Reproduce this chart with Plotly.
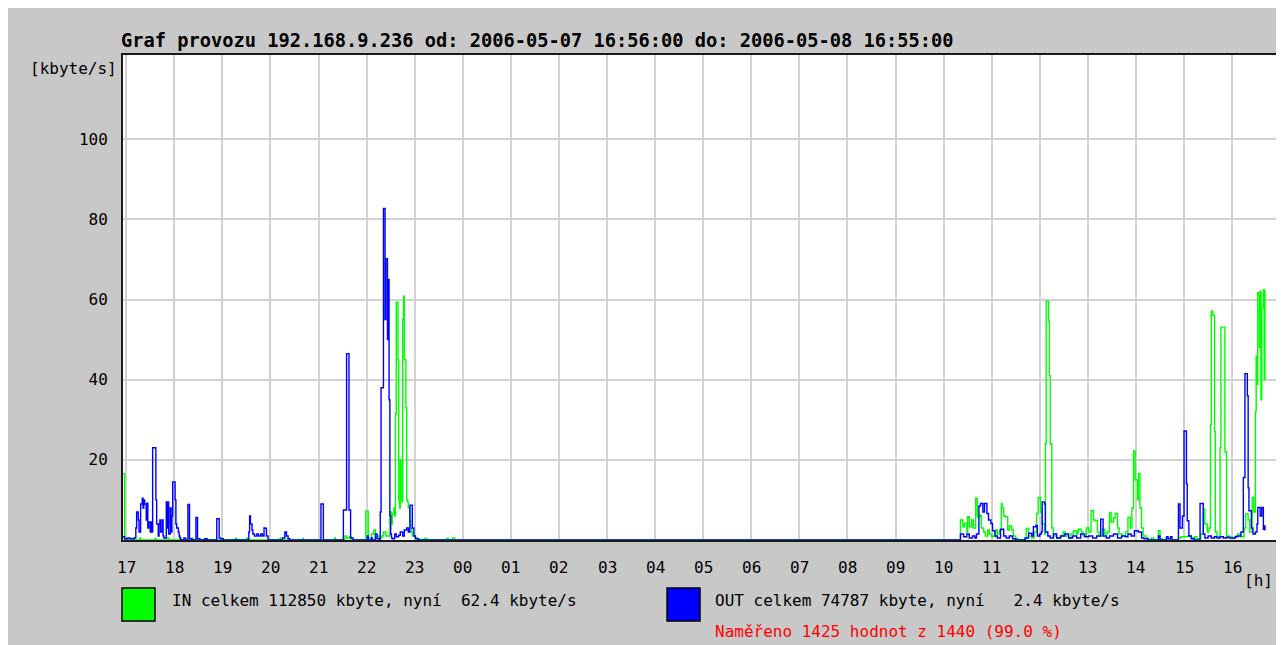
import plotly.graph_objects as go

# ---------------- data ----------------
TITLE = "Graf provozu 192.168.9.236 od: 2006-05-07 16:56:00 do: 2006-05-08 16:55:00"
start_minute_of_hour = 56          # series starts at 16:56
total_minutes = 1440
hour_labels = ["17", "18", "19", "20", "21", "22", "23", "00", "01", "02", "03", "04",
               "05", "06", "07", "08", "09", "10", "11", "12", "13", "14", "15", "16"]
y_ticks = [20, 40, 60, 80, 100]
y_max = 121

# minutes after 16:56 and kbyte/s values (step samples)
in_minute = [0, 2, 11, 13, 21, 22, 40, 41, 56, 57, 71, 72, 86, 87, 140, 142, 154, 155, 196, 197,
             224, 225, 264, 265, 277, 279, 283, 285,
             303, 306, 310, 313, 315, 318, 320, 323, 325, 328, 333, 334, 335, 336, 338, 339,
             340, 341, 343, 344, 345, 346, 348, 349, 350, 351, 353, 354, 355, 356, 358, 359,
             360, 361, 364, 368, 370, 376, 379, 404, 406, 411, 414,
             1045, 1048, 1050, 1053, 1054, 1056, 1059, 1061, 1064, 1066, 1069, 1071, 1074, 1076,
             1079, 1081, 1084, 1086, 1089, 1091, 1094, 1096, 1097, 1099, 1101, 1104, 1106, 1109,
             1111, 1114, 1117, 1125, 1127, 1130, 1134, 1137, 1140, 1142, 1145, 1147, 1150, 1151,
             1152, 1155, 1156, 1157, 1159, 1161, 1165, 1170, 1173, 1176, 1180, 1183, 1186, 1190,
             1192, 1196, 1198, 1202, 1205, 1208, 1211, 1213, 1216, 1218, 1222, 1225, 1228, 1231,
             1233, 1236, 1238, 1241, 1243, 1247, 1251, 1254, 1257, 1259, 1261, 1263, 1266, 1267,
             1269, 1271, 1273, 1277, 1279, 1283, 1286, 1292, 1294, 1297, 1317, 1320, 1329, 1333,
             1337, 1340, 1345, 1348, 1350, 1353, 1355, 1357, 1358, 1360, 1362, 1363, 1365, 1368,
             1369, 1370, 1374, 1375, 1377, 1380, 1384, 1388, 1391, 1395, 1399, 1401, 1404, 1406,
             1409, 1411, 1413, 1414, 1415, 1416, 1418, 1419, 1420, 1421, 1423, 1424, 1425]
in_kbps = [16.5, 0, 0.4, 0, 0.5, 0, 0.4, 0, 0.5, 0, 0.4, 0, 0.5, 0, 0.4, 0, 0.5, 0, 0.5, 0,
           0.4, 0, 0.5, 0, 1.0, 0.5, 0.8, 0,
           7.2, 0.5, 1.5, 2.5, 0.5, 1.0, 0.5, 1.0, 2.0, 1.0, 5.5, 7.0, 4.0, 6.5, 8.0, 6.0,
           31.5, 59.3, 45, 10, 8, 20, 9.5, 55, 60.8, 45, 33, 10, 9.5, 8, 5, 3,
           2, 1, 0.5, 0.3, 0, 0.4, 0, 0.4, 0, 0.5, 0,
           5.0, 3.3, 4.2, 2.0, 5.8, 3.3, 5.0, 3.0, 10.4, 5.8, 6.2, 3.0, 2.0, 1.0,
           2.5, 1.5, 0.8, 1.0, 2.5, 1.5, 2.5, 9.1, 8.0, 6.0, 5.8, 2.5, 3.5, 2.5,
           1.0, 0.3, 0, 0.5, 2.9, 1.0, 0.5, 2.0, 6.6, 10.6, 7.0, 4.0, 1.5, 24,
           59.6, 54.6, 41, 24, 3, 1.0, 0.5, 1.0, 2.0, 1.0, 0.5, 1.5, 2.3, 1.5,
           2.7, 2.0, 1.0, 3.0, 2.0, 7.3, 5.0, 4.8, 2.0, 1.0, 2.7, 1.5, 2.0, 6.9,
           4.5, 5.5, 6.6, 3.0, 1.5, 1.0, 2.0, 5.6, 3.0, 8.0, 22.2, 15.0, 10.0, 16.6,
           8.0, 3.0, 1.0, 0.5, 0, 0.5, 0, 2.3, 0.3, 0, 0.5, 0.8, 1.0, 0.5,
           0.8, 0.3, 1.5, 7.7, 4.0, 2.0, 3.0, 28.7, 57.1, 56, 27, 2.0, 0.8, 1.0,
           23, 53.1, 53.1, 22, 1.0, 0.8, 0.5, 1.0, 1.5, 0.8, 3.0, 6.5, 5.0, 2.0,
           10.6, 7.0, 32, 45.9, 38.8, 61.7, 48, 62.1, 35, 58, 62.4, 40, 62.4]

out_minute = [0, 2, 6, 9, 14, 16, 17, 19, 20, 22, 24, 25, 26, 27, 29, 30, 31, 32, 34, 35,
              36, 37, 40, 41, 42, 44, 45, 46, 47, 49, 50, 51, 54, 55, 56, 57, 59, 60, 61, 62,
              65, 66, 67, 69, 70, 71, 72, 76, 78, 81, 83, 86, 91, 93, 96, 102, 105, 117, 120, 122,
              125, 157, 158, 159, 161, 162, 164, 167, 169, 172, 174, 176, 178, 179, 181, 199, 202,
              204, 206, 208, 247, 250, 275, 279, 282, 284, 287, 305, 306, 310, 311, 315, 317, 320,
              321, 322, 325, 327, 328, 330, 331, 332, 333, 334, 335, 336, 339, 341, 344, 346, 349,
              351, 354, 356, 358, 361, 363, 365, 368,
              1045, 1049, 1053, 1056, 1060, 1063, 1065, 1068, 1070, 1073, 1075, 1078, 1080, 1083,
              1085, 1088, 1091, 1095, 1099, 1102, 1106, 1110, 1114, 1126, 1130, 1134, 1136, 1139,
              1141, 1144, 1146, 1147, 1150, 1151, 1154, 1157, 1161, 1165, 1170, 1175, 1180, 1185,
              1190, 1195, 1200, 1205, 1210, 1215, 1220, 1223, 1227, 1231, 1236, 1241, 1246, 1251,
              1254, 1258, 1262, 1267, 1271, 1274, 1279, 1292, 1294, 1302, 1304, 1307, 1309, 1317,
              1319, 1322, 1324, 1327, 1328, 1330, 1333, 1337, 1344, 1348, 1350, 1354, 1358, 1362,
              1365, 1369, 1373, 1377, 1380, 1384, 1388, 1391, 1395, 1398, 1400, 1403, 1404, 1405,
              1408, 1410, 1413, 1415, 1416, 1419, 1421, 1423, 1424, 1425]
out_kbps = [0.8, 0.3, 0.5, 0.3, 0.5, 3, 7, 5, 2, 9, 10.4, 8, 10, 9, 5, 9.2, 3, 4.5, 2, 4.5,
            2, 23, 23, 10, 4, 1, 4, 5, 2, 5, 1, 0.5, 9.5, 3, 9.5, 1.5, 8, 2, 6, 14.5,
            10, 4, 3, 2, 1, 0.5, 0, 0.5, 0, 8.9, 0.3, 0, 5.6, 0.3, 0, 0.3, 0, 5.3, 0.5, 0.3,
            0, 2, 6, 4, 2.5, 1.5, 1, 1.5, 1, 1.5, 1, 3, 2.9, 1, 0, 0.5, 2,
            1, 0.3, 0, 9.0, 0, 7.5, 46.5, 7.5, 0.5, 0, 1.0, 0, 0.5, 0, 1.5, 0.3, 0,
            7, 38, 82.7, 55, 70.2, 50, 65, 35, 6, 1.5, 0.5, 0.3, 1.5, 0.8, 1.2, 2.0, 1.0,
            2.5, 3, 2, 8.7, 3, 1, 0.3, 0,
            1.5, 0.8, 1.5, 0.5, 1.0, 0.5, 1.5, 8.5, 9.1, 7.0, 9.1, 6.6, 5.0, 4.1,
            2.3, 1.0, 0.5, 2.7, 1.0, 0.5, 1.0, 0.3, 0, 0.5, 1.7, 1.0, 3.3, 3.6,
            1.0, 1.5, 2.0, 9.5, 9.0, 2.0, 1.0, 0.5, 1.5, 0.5, 1.0, 1.5, 0.5, 1.0,
            0.5, 1.5, 0.8, 1.0, 0.5, 1.0, 5.2, 1.0, 0.5, 1.0, 1.5, 0.5, 1.0, 0.8,
            1.5, 1.0, 2.3, 2.0, 0.5, 0.3, 0, 1.0, 0, 0.8, 0.3, 0.8, 0, 9.0,
            3.0, 6.0, 27.2, 14.0, 4.8, 1.0, 0.3, 0, 9.1, 1.5, 0.5, 1.0, 0.5, 0.8,
            0.5, 0.8, 0.5, 0.7, 0.5, 0.5, 0.8, 1.0, 2.0, 15.6, 41.5, 36, 13, 7.3,
            3.0, 1.5, 2.0, 4.0, 8.1, 6.0, 8.1, 2.7, 3.5, 2.4]

assert len(in_minute) == len(in_kbps), (len(in_minute), len(in_kbps))
assert len(out_minute) == len(out_kbps), (len(out_minute), len(out_kbps))

IN_TEXT = "IN celkem 112850 kbyte, nyní  62.4 kbyte/s"
OUT_TEXT = "OUT celkem 74787 kbyte, nyní   2.4 kbyte/s"
COUNT_TEXT = "Naměřeno 1425 hodnot z 1440 (99.0 %)"
Y_UNIT = "[kbyte/s]"
X_UNIT = "[h]"

# ---------------- layout helpers ----------------
OFF = 8                              # page body margin (screen px)
W, H = 1284 - OFF, 645 - OFF         # figure size
PL, PR, PT, PB = 123, 1279, 55, 540  # plot area edges in screen pixels


def fx(px):
    return (px - PL) / (PR - PL)


def fy(py):
    return (PB - py) / (PB - PT)


FONT = "DejaVu Sans Mono"
GREY = "#c8c8c8"
GRID = "#d2d2d2"

first_hour = 60 - start_minute_of_hour
tick_vals = [first_hour + 60 * i for i in range(len(hour_labels))]

fig = go.Figure()
fig.add_trace(go.Scatter(x=in_minute, y=in_kbps, mode="lines", line_shape="hv",
                         line=dict(color="#00ff00", width=1.4), name="IN", showlegend=False,
                         hoverinfo="skip"))
fig.add_trace(go.Scatter(x=out_minute, y=out_kbps, mode="lines", line_shape="hv",
                         line=dict(color="#0000ff", width=1.4), name="OUT", showlegend=False,
                         hoverinfo="skip"))

fig.update_layout(
    width=W, height=H, autosize=False,
    margin=dict(l=PL - OFF, r=W - (PR - OFF), t=PT - OFF, b=H - (PB - OFF), pad=0),
    paper_bgcolor=GREY, plot_bgcolor="white",
    font=dict(family=FONT, size=16, color="black"),
    title=dict(text="<b>" + TITLE + "</b>", x=(121 - OFF) / W, xref="container", xanchor="left",
               y=1 - (40 - OFF) / H, yref="container", yanchor="middle",
               font=dict(family=FONT, size=18.7, color="black")),
    xaxis=dict(range=[0, total_minutes], tickvals=tick_vals, showticklabels=False,
               showgrid=True, gridcolor=GRID, gridwidth=2, zeroline=False,
               showline=True, mirror=True, linecolor="#1a1a1a", linewidth=2, ticks=""),
    yaxis=dict(range=[0, y_max], tickvals=y_ticks, showgrid=True, gridcolor=GRID, gridwidth=2,
               zeroline=False, showline=True, mirror=True, linecolor="#1a1a1a", linewidth=2,
               ticks="", ticklabelstandoff=10,
               tickfont=dict(family=FONT, size=16, color="black")),
)

shapes = [
    dict(type="rect", xref="paper", yref="paper", x0=fx(122), x1=fx(155), y0=fy(621), y1=fy(588),
         fillcolor="#00ff00", line=dict(color="black", width=1.5)),
    dict(type="rect", xref="paper", yref="paper", x0=fx(668), x1=fx(701), y0=fy(621), y1=fy(588),
         fillcolor="#0000ff", line=dict(color="black", width=1.5)),
]
fig.update_layout(shapes=shapes)

ann = [
    dict(text=Y_UNIT, x=fx(119), y=fy(68), xanchor="right", yanchor="middle"),
    dict(text=X_UNIT, x=fx(1260), y=fy(580), xanchor="center", yanchor="middle"),
    dict(text=IN_TEXT, x=fx(170), y=fy(600), xanchor="left", yanchor="middle"),
    dict(text=OUT_TEXT, x=fx(714), y=fy(600), xanchor="left", yanchor="middle"),
    dict(text=COUNT_TEXT, x=fx(714), y=fy(631), xanchor="left", yanchor="middle",
         font=dict(family=FONT, size=16, color="#ff0000")),
]
for a in ann:
    a.update(xref="paper", yref="paper", showarrow=False)
    a.setdefault("font", dict(family=FONT, size=16, color="black"))
# hour labels placed on the x axis scale, below the plot area
for v, lab in zip(tick_vals, hour_labels):
    ann.append(dict(text=lab, x=v, xref="x", y=fy(567), yref="paper", xanchor="center",
                    yanchor="middle", showarrow=False,
                    font=dict(family=FONT, size=16, color="black")))
fig.update_layout(annotations=ann)

fig.write_html("out.html")
